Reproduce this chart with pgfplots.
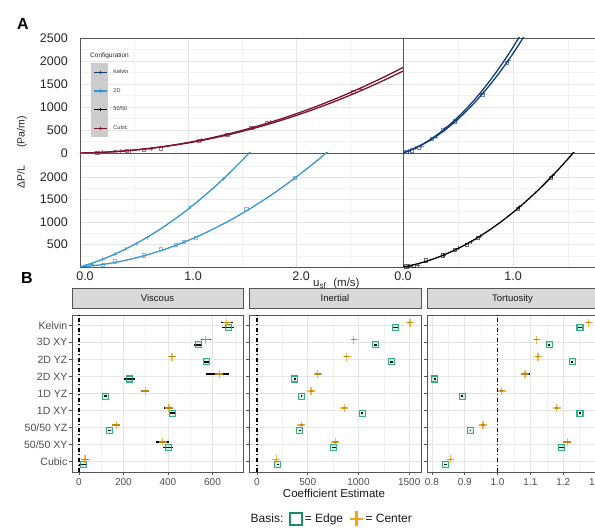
\documentclass[border=0pt]{standalone}
\usepackage{pgfplots}
\usepackage{pgfplotstable}
\pgfplotsset{compat=1.18}
\usepackage{fontspec}
\setmainfont{Liberation Sans}

\definecolor{kel}{RGB}{22,62,118}
\definecolor{twod}{RGB}{55,150,205}
\definecolor{cub}{RGB}{122,20,45}
\definecolor{edgeg}{RGB}{27,158,119}
\definecolor{ctro}{RGB}{240,165,20}
\definecolor{axgray}{RGB}{85,85,85}
\definecolor{tickg}{RGB}{77,77,77}
\definecolor{stripg}{RGB}{217,217,217}

% ---------------- Panel B data ----------------
\pgfplotstableread{
y x em ep
9.15 664 27 28
8.15 570 22 23
7.15 418 15 18
6.15 630 60 42
5.15 298 18 19
4.15 404 20 17
3.15 168 19 18
2.15 377 30 29
1.15 27 18 19
}\visC
\pgfplotstableread{
y x em ep
8.85 670 28 28
7.85 536 18 19
6.85 573 10 10
5.85 228 26 22
4.85 118 6 6
3.85 421 11 11
2.85 138 6 6
1.85 402 25 22
0.85 19 18 18
}\visE
\pgfplotstableread{
y x em ep
9.15 1507 25 25
8.15 954 20 20
7.15 882 20 20
6.15 599 30 30
5.15 533 15 15
4.15 862 15 15
3.15 438 12 12
2.15 773 25 25
1.15 191 10 10
}\inaC
\pgfplotstableread{
y x em ep
8.85 1365 25 25
7.85 1168 12 12
6.85 1326 15 15
5.85 372 8 8
4.85 434 5 5
3.85 1036 8 8
2.85 421 5 5
1.85 757 20 20
0.85 204 5 5
}\inaE
\pgfplotstableread{
y x em ep
9.15 1.278 0.008 0.008
8.15 1.119 0.008 0.008
7.15 1.123 0.006 0.006
6.15 1.084 0.014 0.014
5.15 1.012 0.005 0.005
4.15 1.180 0.005 0.005
3.15 0.956 0.005 0.005
2.15 1.212 0.012 0.012
1.15 0.856 0.006 0.006
}\torC
\pgfplotstableread{
y x em ep
8.85 1.251 0.006 0.006
7.85 1.157 0.003 0.003
6.85 1.228 0.003 0.003
5.85 0.809 0.002 0.002
4.85 0.892 0.002 0.002
3.85 1.251 0.002 0.002
2.85 0.917 0.002 0.002
1.85 1.195 0.008 0.008
0.85 0.841 0.004 0.004
}\torE

\pgfplotsset{
  every axis/.append style={/pgf/number format/1000 sep={}, /pgf/number format/assume math mode=true, scaled ticks=false},
  panA/.style={scale only axis, axis line style={draw=axgray, line width=0.9pt},
    grid=both, major grid style={draw=gray!20, line width=0.6pt}, minor grid style={draw=gray!10, line width=0.45pt},
    major tick length=0pt, minor tick length=0pt,
    tick label style={font=\fontsize{12.5}{14}\selectfont, text=black!85},
    yticklabel style={inner sep=0pt, xshift=-12pt},
    xticklabel style={inner sep=0pt, yshift=-5pt}},
  panB/.style={scale only axis, width=171pt, height=157pt, ymin=0.4, ymax=9.6, ytick={1,...,9},
    axis line style={draw=axgray, line width=0.9pt},
    grid=both, major grid style={draw=gray!20, line width=0.6pt}, minor grid style={draw=gray!10, line width=0.45pt},
    tick align=outside, major tick length=3pt, minor tick length=0pt, xtick pos=left, ytick pos=left,
    tick style={draw=axgray, line width=0.6pt},
    tick label style={text=tickg},
    xticklabel style={font=\fontsize{10}{12}\selectfont},
    yticklabel style={font=\fontsize{10.5}{12}\selectfont, inner sep=1.5pt},
    title style={at={(0.5,1)}, anchor=south, fill=stripg, draw=axgray, line width=0.9pt,
      minimum width=171pt, minimum height=20pt, inner sep=0pt, font=\fontsize{9.5}{11}\selectfont, text=black!90}},
  edgeP/.style={only marks, mark=square*, mark size=3pt,
    mark options={draw=edgeg, fill=edgeg, fill opacity=0.15, draw opacity=0.85, line width=1.1pt},
    /pgfplots/error bars/x dir=both, /pgfplots/error bars/x explicit, /pgfplots/error bars/error mark=none,
    /pgfplots/error bars/error bar style={black, line width=1.3pt, solid}},
  ctrP/.style={only marks, mark=+, mark size=4pt,
    mark options={draw=ctro, draw opacity=0.8, line width=1.3pt},
    /pgfplots/error bars/x dir=both, /pgfplots/error bars/x explicit, /pgfplots/error bars/error mark=none,
    /pgfplots/error bars/error bar style={black, line width=1.3pt, solid}},
  refl/.style={black, line width=1.3pt, dash pattern=on 4pt off 2.5pt on 1pt off 2.5pt, forget plot},
  fitL/.style={line width=1.3pt, smooth, forget plot},
  ptsq/.style={only marks, mark=square, mark size=1.6pt, mark options={draw opacity=0.6, line width=0.6pt}, forget plot},
  ptcr/.style={only marks, mark=+, mark size=2pt, mark options={draw opacity=0.6, line width=0.6pt}, forget plot},
}

\begin{document}
\begin{tikzpicture}
\path[use as bounding box] (0pt,0pt) rectangle (595pt,-529pt);

% ================= Panel A =================
% top-left : Cubic
\begin{axis}[panA, at={(80pt,-153pt)}, anchor=south west, width=323pt, height=115pt,
  xmin=0, xmax=2.99, ymin=0, ymax=2500,
  xtick={0,1,2}, xticklabels={}, minor xtick={0.5,1.5,2.5},
  ytick={0,500,1000,1500,2000,2500}, minor ytick={250,750,1250,1750,2250},
  legend style={at={(0.034,0.7826)}, anchor=north west, draw=none, fill=none, inner sep=0pt, row sep=0pt,
    nodes={inner sep=0pt, font=\fontsize{5.5}{6}\selectfont, text=black!80},
    /tikz/every odd column/.style={column sep=5pt}},
  legend cell align=left,
  legend image code/.code={\fill[gray!40] (-2pt,-8.63pt) rectangle (14pt,8.63pt);
    \draw[mark repeat=2, mark phase=2, #1] plot coordinates {(0pt,0pt) (6.5pt,0pt) (13pt,0pt)};}]
\addlegendimage{kel, line width=1.3pt, mark=+, mark size=1.6pt}
\addlegendentry{Kelvin}
\addlegendimage{twod, line width=1.3pt, mark=+, mark size=1.6pt}
\addlegendentry{2D}
\addlegendimage{black, line width=1.3pt, mark=+, mark size=1.6pt}
\addlegendentry{50/50}
\addlegendimage{cub, line width=1.3pt, mark=+, mark size=1.6pt}
\addlegendentry{Cubic}
\addplot[fitL, cub] coordinates {(0,0) (0.2,14.1) (0.4,44) (0.6,89.7) (0.8,151.2) (1.0,228.5) (1.2,321.6) (1.4,430.5) (1.6,555.2) (1.8,695.7) (2.0,852) (2.2,1024.1) (2.4,1212) (2.6,1415.7) (2.8,1635.2) (3.0,1870.5)};
\addplot[fitL, cub] coordinates {(0,0) (0.2,13.2) (0.4,41.6) (0.6,85.2) (0.8,143.9) (1.0,217.8) (1.2,306.8) (1.4,411.1) (1.6,530.5) (1.8,665.1) (2.0,814.8) (2.2,979.7) (2.4,1159.8) (2.6,1355) (2.8,1565.5) (3.0,1791)};
\addplot[ptsq, cub] coordinates {(0.16,12) (0.32,30) (0.43,45) (0.59,62) (0.75,100) (1.10,270) (1.36,395) (1.58,540) (1.73,650) (2.53,1330)};
\addplot[ptcr, cub] coordinates {(0.21,14) (0.37,35) (0.47,50) (0.66,80) (1.12,285) (1.38,400) (1.60,550) (1.76,670) (2.60,1390)};
\end{axis}

% top-right : Kelvin
\begin{axis}[panA, at={(403pt,-153pt)}, anchor=south west, width=192pt, height=115pt,
  xmin=0, xmax=1.745, ymin=0, ymax=2500,
  xtick={0,1}, xticklabels={}, minor xtick={0.5,1.5},
  ytick={0,500,1000,1500,2000,2500}, yticklabels={}, minor ytick={250,750,1250,1750,2250}]
\addplot[fitL, kel] coordinates {(0,0) (0.1,92.4) (0.2,212.3) (0.3,359.8) (0.4,534.9) (0.5,737.5) (0.6,967.7) (0.7,1225.4) (0.8,1510.7) (0.9,1823.6) (1.0,2164) (1.1,2532)};
\addplot[fitL, kel] coordinates {(0,0) (0.1,96.8) (0.2,223.2) (0.3,379.2) (0.4,564.8) (0.5,780) (0.6,1024.8) (0.7,1299.2) (0.8,1603.2) (0.9,1936.8) (1.0,2300) (1.1,2692.8)};
\addplot[ptsq, kel] coordinates {(0.03,25) (0.08,60) (0.14,120) (0.26,300) (0.36,500) (0.47,690) (0.72,1270) (0.94,1960)};
\addplot[ptcr, kel] coordinates {(0.05,40) (0.11,100) (0.17,150) (0.30,350) (0.39,550) (0.48,720) (0.73,1300) (0.96,2010)};
\end{axis}

% bottom-left : 2D
\begin{axis}[panA, at={(80pt,-267pt)}, anchor=south west, width=323pt, height=114pt,
  xmin=0, xmax=2.99, ymin=0, ymax=2533,
  xtick={0,1,2}, xticklabels={0.0,1.0,2.0}, minor xtick={0.5,1.5,2.5},
  xticklabel style={xshift=5pt},
  ytick={500,1000,1500,2000}, minor ytick={250,750,1250,1750,2250}]
\addplot[fitL, twod] coordinates {(0,0) (0.1,75.7) (0.2,163) (0.3,262.2) (0.4,373.1) (0.5,495.7) (0.6,630) (0.7,776.2) (0.8,934.1) (0.9,1103.6) (1.0,1285) (1.1,1478.1) (1.2,1682.9) (1.3,1899.5) (1.4,2127.9) (1.5,2368) (1.6,2619.8)};
\addplot[fitL, twod] coordinates {(0,0) (0.2,52.3) (0.4,137.2) (0.6,254.9) (0.8,405.3) (1.0,588.5) (1.2,804.4) (1.4,1053) (1.6,1334.5) (1.8,1648.5) (2.0,1995.4) (2.2,2375) (2.4,2787.3)};
\addplot[ptcr, twod] coordinates {(0.05,30) (0.11,70) (0.21,170) (0.32,280) (0.42,390) (0.52,500) (0.62,655) (1.02,1340) (1.33,1960)};
\addplot[ptsq, twod] coordinates {(0.11,30) (0.21,55) (0.32,126) (0.59,258) (0.75,410) (0.89,500) (0.96,560) (1.07,655) (1.54,1300) (1.99,1980)};
\end{axis}

% bottom-right : 50/50
\begin{axis}[panA, at={(403pt,-267pt)}, anchor=south west, width=192pt, height=114pt,
  xmin=0, xmax=1.745, ymin=0, ymax=2533,
  xtick={0,1}, xticklabels={0.0,1.0}, minor xtick={0.5,1.5},
  ytick={500,1000,1500,2000}, yticklabels={}, minor ytick={250,750,1250,1750,2250}]
\addplot[fitL, black] coordinates {(0,0) (0.1,51.1) (0.2,117.8) (0.3,200.1) (0.4,298) (0.5,411.5) (0.6,540.6) (0.7,685.3) (0.8,845.6) (0.9,1021.5) (1.0,1213) (1.1,1420.1) (1.2,1642.8) (1.3,1881.1) (1.4,2135) (1.5,2404.5) (1.6,2689.6)};
\addplot[ptsq, black] coordinates {(0.03,15) (0.10,30) (0.21,150) (0.36,258) (0.47,390) (0.58,500) (0.68,655) (1.04,1300) (1.34,1990)};
\addplot[ptcr, black] coordinates {(0.06,20) (0.14,45) (0.37,265) (0.50,420) (0.62,560) (0.70,680) (1.06,1340) (1.36,2030)};
\end{axis}

\node[anchor=base west, inner sep=0pt, font=\fontsize{6.5}{7}\selectfont, text=black!85] at (90pt,-58pt) {Configuration};
\node[rotate=90, inner sep=0pt, font=\fontsize{10.5}{12}\selectfont, text=black!85] at (22pt,-152.5pt) {ΔP/L\hspace{18pt}(Pa/m)};
\node[anchor=base west, inner sep=0pt, font=\fontsize{11.5}{13}\selectfont, text=black!85] at (313pt,-287pt) {u\textsubscript{sf}\hspace{7pt}(m/s)};
\node[font=\bfseries\fontsize{16}{18}\selectfont] at (23pt,-24pt) {A};
\node[font=\bfseries\fontsize{16}{18}\selectfont] at (27pt,-278pt) {B};

% ================= Panel B =================
\begin{axis}[panB, at={(72pt,-472pt)}, anchor=south west, title={Viscous},
  xmin=-31, xmax=737, xtick={0,200,400,600}, minor xtick={100,300,500,700},
  yticklabels={Cubic,50/50 XY,50/50 YZ,1D XY,1D YZ,2D XY,2D YZ,3D XY,Kelvin}]
\addplot[refl] coordinates {(0,0.4) (0,9.6)};
\addplot[edgeP, forget plot] table[x=x, y=y, x error minus=em, x error plus=ep] {\visE};
\addplot[ctrP, forget plot] table[x=x, y=y, x error minus=em, x error plus=ep] {\visC};
\end{axis}

\begin{axis}[panB, at={(249pt,-472pt)}, anchor=south west, width=172pt, title={Inertial},
  title style={minimum width=172pt},
  xmin=-79, xmax=1616, xtick={0,500,1000,1500}, minor xtick={250,750,1250},
  yticklabels={},
  legend style={at={(0,-0.299)}, anchor=west, draw=none, fill=none, inner sep=0pt,
    nodes={inner sep=0.5pt, font=\fontsize{12}{14}\selectfont, text=black!90},
    /tikz/every odd column/.style={column sep=1pt},
    /tikz/every even column/.style={column sep=5pt}},
  legend columns=3, legend cell align=left]
\addplot[refl] coordinates {(0,0.4) (0,9.6)};
\addplot[edgeP, forget plot] table[x=x, y=y, x error minus=em, x error plus=ep] {\inaE};
\addplot[ctrP, forget plot] table[x=x, y=y, x error minus=em, x error plus=ep] {\inaC};
\addlegendimage{empty legend}
\addlegendentry{Basis:}
\addlegendimage{legend image code/.code={\draw[draw=edgeg!90!black, line width=2.4pt] (0pt,-6pt) rectangle (12pt,6pt);}}
\addlegendentry{= Edge}
\addlegendimage{legend image code/.code={\draw[draw=ctro, line width=2.4pt] (0pt,0pt) -- (13pt,0pt) (6.5pt,-7.5pt) -- (6.5pt,7.5pt);}}
\addlegendentry{= Center}
\end{axis}

\begin{axis}[panB, at={(427pt,-472pt)}, anchor=south west, title={Tortuosity},
  xmin=0.785, xmax=1.306, xtick={0.8,0.9,1.0,1.1,1.2,1.3}, xticklabels={0.8,0.9,1.0,1.1,1.2,1.3},
  minor xtick={0.85,0.95,1.05,1.15,1.25},
  yticklabels={}]
\addplot[refl] coordinates {(1,0.4) (1,9.6)};
\addplot[edgeP, forget plot] table[x=x, y=y, x error minus=em, x error plus=ep] {\torE};
\addplot[ctrP, forget plot] table[x=x, y=y, x error minus=em, x error plus=ep] {\torC};
\end{axis}

\node[inner sep=0pt, font=\fontsize{11.5}{13}\selectfont, text=black!90] at (334pt,-493pt) {Coefficient Estimate};
\end{tikzpicture}
\end{document}
